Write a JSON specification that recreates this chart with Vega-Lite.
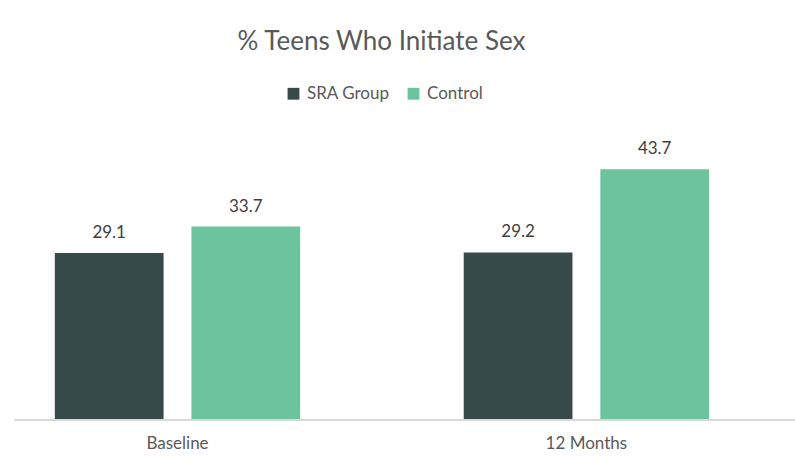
{
  "$schema": "https://vega.github.io/schema/vega-lite/v6.json",
  "autosize": "none",
  "width": 781,
  "height": 287,
  "padding": {"left": 14, "top": 133, "right": 0, "bottom": 48},
  "background": "white",
  "title": {
    "text": "% Teens Who Initiate Sex",
    "font": "Lato",
    "fontSize": 26,
    "fontWeight": "normal",
    "color": "#595959",
    "anchor": "middle",
    "baseline": "alphabetic",
    "dx": -23,
    "offset": 9
  },
  "data": {
    "values": [
      {"time": "Baseline", "group": "SRA Group", "value": 29.1},
      {"time": "Baseline", "group": "Control", "value": 33.7},
      {"time": "12 Months", "group": "SRA Group", "value": 29.2},
      {"time": "12 Months", "group": "Control", "value": 43.7}
    ]
  },
  "encoding": {
    "x": {
      "field": "time",
      "type": "nominal",
      "sort": ["Baseline", "12 Months"],
      "scale": {"paddingInner": 0.4, "paddingOuter": 0.155, "align": 0.322},
      "axis": {
        "title": null,
        "labelAngle": 0,
        "labelFont": "Lato",
        "labelFontSize": 17,
        "labelColor": "#595959",
        "labelPadding": 15,
        "ticks": false,
        "domain": false
      }
    },
    "xOffset": {
      "field": "group",
      "type": "nominal",
      "sort": ["SRA Group", "Control"],
      "scale": {"paddingInner": 0.204, "paddingOuter": 0}
    },
    "y": {
      "field": "value",
      "type": "quantitative",
      "scale": {"domain": [0, 50]},
      "axis": null
    }
  },
  "layer": [
    {
      "mark": {"type": "bar"},
      "encoding": {
        "color": {
          "field": "group",
          "type": "nominal",
          "sort": ["SRA Group", "Control"],
          "scale": {"domain": ["SRA Group", "Control"], "range": ["#374a4a", "#6bc49d"]},
          "legend": {
            "title": null,
            "orient": "none",
            "direction": "horizontal",
            "legendX": 271,
            "legendY": -48,
            "symbolType": "square",
            "symbolSize": 140,
            "symbolStrokeWidth": 0,
            "labelFont": "Lato",
            "labelFontSize": 17,
            "labelColor": "#595959",
            "columnPadding": 15,
            "labelOffset": 5
          }
        }
      }
    },
    {
      "mark": {"type": "text", "baseline": "alphabetic", "dy": -15, "font": "Lato", "fontSize": 17, "color": "#404040"},
      "encoding": {
        "text": {"field": "value", "type": "quantitative", "format": ".1f"}
      }
    },
    {
      "mark": {"type": "rule", "color": "#d9d9d9", "strokeWidth": 1.5},
      "encoding": {"y": {"datum": 0}, "x": null, "xOffset": null}
    }
  ],
  "config": {"view": {"stroke": null}}
}
